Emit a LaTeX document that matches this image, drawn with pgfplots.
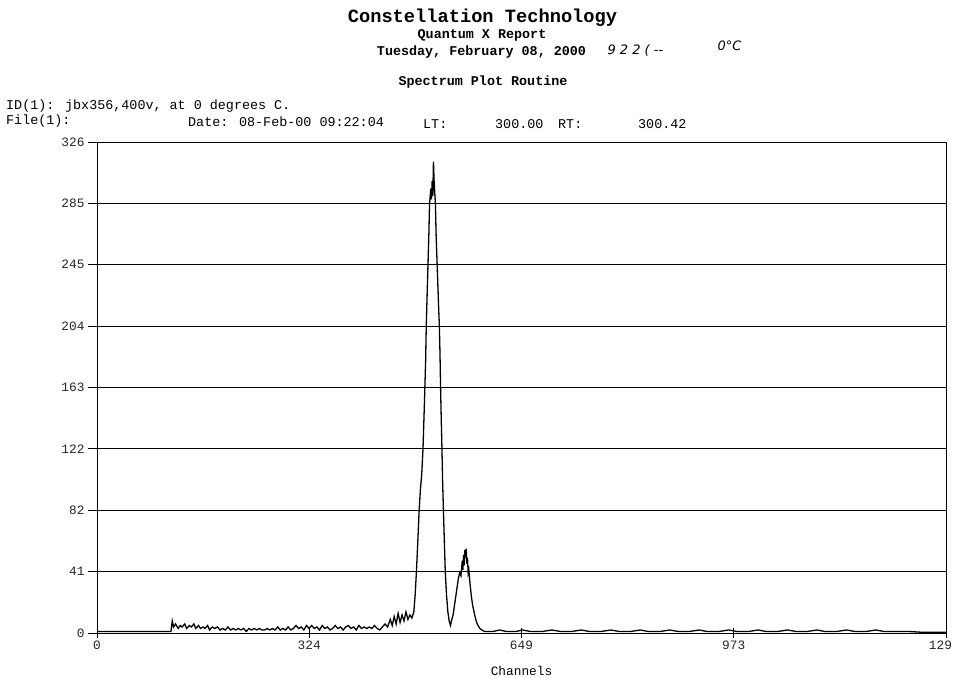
\documentclass[border=0pt]{standalone}
\usepackage{fontspec}
\setmainfont{Liberation Mono}
\newfontfamily\hand{DejaVu Sans}
\usepackage{pgfplots}
\pgfplotsset{compat=1.18}
\newcommand{\hdr}{\fontsize{13.4}{14}\selectfont}
\begin{document}
\begin{tikzpicture}[x=1pt,y=1pt]
\useasboundingbox (0,0) rectangle (955,677);
\node[font=\fontsize{18.7}{20}\selectfont\bfseries] at (482.5,659) {Constellation Technology};
\node[font=\hdr\bfseries] at (482,642) {Quantum X Report};
\node[font=\hdr\bfseries] at (481.5,625) {Tuesday, February 08, 2000};
\node[font=\hand\fontsize{13}{14}\selectfont\itshape, anchor=west] at (604,627) {9 2 2 ( --};
\node[font=\hand\fontsize{13}{14}\selectfont\itshape, anchor=west] at (714,631) {0°C};
\node[font=\hdr\bfseries] at (483,595) {Spectrum Plot Routine};
\node[font=\hdr, anchor=west, inner sep=0pt] at (6,571) {ID(1): jbx356,400v, at 0 degrees C.};
\node[font=\hdr, anchor=west, inner sep=0pt] at (6,556) {File(1):};
\node[font=\hdr, anchor=west, inner sep=0pt] at (188,555) {Date: 08-Feb-00 09:22:04};
\node[font=\hdr, anchor=west, inner sep=0pt] at (423,553) {LT:};
\node[font=\hdr, anchor=west, inner sep=0pt] at (495,553) {300.00};
\node[font=\hdr, anchor=west, inner sep=0pt] at (558,553) {RT:};
\node[font=\hdr, anchor=west, inner sep=0pt] at (638,553) {300.42};
\begin{axis}[
  at={(97pt,44pt)}, anchor=south west,
  scale only axis, width=849pt, height=491pt,
  xmin=0, xmax=1297, ymin=0, ymax=326,
  xtick={0,324.25,648.5,972.75,1297},
  xticklabels={0,324,649,973,\hbox to 0pt{\hss 129\hskip -6pt}},
  ytick={0,40.75,81.5,122.25,163,203.75,244.5,285.25,326},
  yticklabels={0,41,82,122,163,204,245,285,326},
  ymajorgrids,
  grid style={black, line width=0.9pt},
  axis line style={black, line width=0.9pt},
  tick style={black, line width=0.8pt},
  major tick length=9pt,
  xtick align=center, ytick align=outside,
  xtick pos=bottom, ytick pos=left,
  /pgf/number format/assume math mode=true,
  tick label style={font=\fontsize{12.8}{13}\selectfont, text=black!85},
  xlabel={Channels},
  xlabel style={font=\fontsize{12.8}{13}\selectfont, at={(axis description cs:0.5,0)}, anchor=center, yshift=-38pt},
]
\addplot[black, line width=1.3pt, sharp plot] coordinates {
(0,1) (20,1) (40,1) (60,1) (80,1) (100,1) (113,1)
(115,8) (117,4) (120,6) (124,3) (127,5) (130,4) (134,6) (137,3) (141,5) (144,4) (148,6) (151,3) (155,5) (158,3) (162,4) (165,3) (169,5) (172,2) (176,4) (180,3) (184,4) (188,2) (192,3) (196,2) (200,4) (204,2) (208,3) (212,2) (216,3) (220,2) (224,3) (228,1) (232,3) (236,2) (240,3) (244,2) (248,3) (252,2) (256,2) (260,3) (264,2) (268,3) (272,2) (276,4) (280,2) (284,3) (288,2) (292,4) (296,2) (300,3) (304,5) (308,3) (312,4) (316,2) (320,5) (324,3) (328,5) (332,3) (336,4) (340,2) (344,5) (348,3) (352,4) (356,2) (360,3) (364,5) (368,3) (372,4) (376,2) (380,4) (384,5) (388,3) (392,4) (396,2) (400,5) (404,3) (408,4) (412,3) (416,4) (420,3) (424,5) (428,3) (432,2) (436,4)
(440,6) (444,4) (448,9) (451,5) (454,11) (457,6) (460,13) (463,7) (466,12) (469,8) (472,14) (475,9) (478,12) (481,10) (484,14)
(486,25) (488,41) (490,60) (492,80) (494,95) (496,105) (498,122) (500,150) (502,180) (503,204) (505,235) (507,265) (508,285) (510,295) (511,288) (512,300) (513,290) (514,313) (515,300) (516,292) (517,285) (518,265) (520,240) (522,215) (523,204) (524,185) (525,160) (526,140) (527,122) (528,100) (530,70) (532,41) (534,25) (536,14) (538,8) (540,5)
(542,9) (544,12) (546,18) (548,24) (550,30) (552,36) (554,40) (556,38) (558,48) (559,42) (560,52) (561,45) (562,55) (563,50) (564,56) (565,46) (566,50) (567,40) (568,42) (570,32) (572,24) (574,18) (576,14) (578,10) (580,7) (582,5) (585,3) (588,2) (592,1)
(605,1) (615,2) (625,1) (640,1) (650,2) (662,1) (680,1) (695,2) (708,1) (725,1) (740,2) (752,1) (770,1) (785,2) (798,1) (815,1) (830,2) (842,1) (860,1) (875,2) (888,1) (905,1) (920,2) (932,1) (950,1) (965,2) (978,1) (995,1) (1010,2) (1022,1) (1040,1) (1055,2) (1068,1) (1085,1) (1100,2) (1112,1) (1130,1) (1145,2) (1158,1) (1175,1) (1190,2) (1202,1) (1220,1) (1240,1) (1260,0.5) (1297,0.5)
};
\end{axis}
\end{tikzpicture}
\end{document}
